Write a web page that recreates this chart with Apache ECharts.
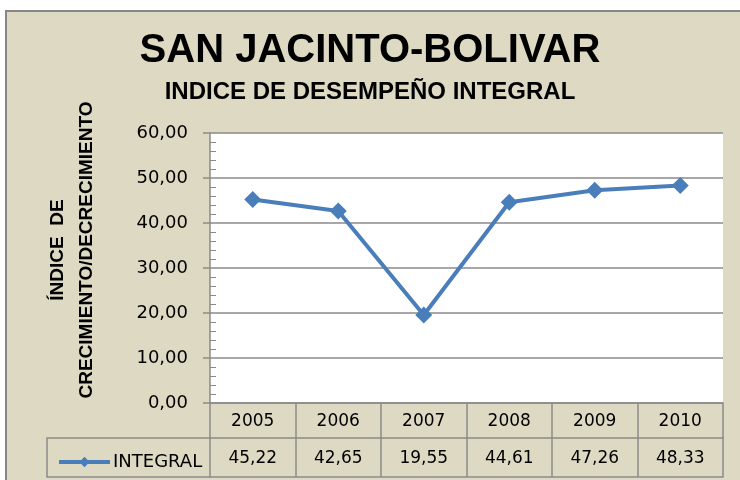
<!DOCTYPE html>
<html>
<head>
<meta charset="utf-8">
<script src="https://cdn.jsdelivr.net/npm/echarts@6/dist/echarts.min.js"></script>
<style>
  html, body { margin: 0; padding: 0; background: #ffffff; }
  .wrap { position: relative; width: 740px; height: 480px; overflow: hidden; }
  .frame { position: absolute; left: 5px; top: 10px; width: 760px; height: 500px;
           background: #DDD9C3; border: 2px solid #878787; }
  #chart { position: absolute; left: 0; top: 0; width: 740px; height: 480px; }
</style>
</head>
<body>
<div class="wrap">
  <div class="frame"></div>
  <div id="chart"></div>
</div>
<script>
  // datos del grafico
  var years = ['2005', '2006', '2007', '2008', '2009', '2010']
  var integral = [45.22, 42.65, 19.55, 44.61, 47.26, 48.33]
  var yMin = 0
  var yMax = 60
  var yStep = 10

  // formato con coma decimal
  function fmt (v) {
    return Number(v).toFixed(2).replace('.', ',')
  }

  var gray = '#8a8a8a'
  var lbl = { color: '#000', fontFamily: 'DejaVu Sans', fontSize: 17 }

  var chart = echarts.init(document.getElementById('chart'))
  chart.setOption({
    backgroundColor: 'transparent',
    animation: false,
    title: [{
      text: 'SAN JACINTO-BOLIVAR',
      left: 'center',
      top: 26,
      textStyle: { color: '#000', fontFamily: 'Liberation Sans', fontWeight: 'bold', fontSize: 40 }
    }, {
      text: 'INDICE DE DESEMPEÑO INTEGRAL',
      left: 'center',
      top: 75,
      textStyle: { color: '#000', fontFamily: 'Liberation Sans', fontWeight: 'bold', fontSize: 24 }
    }],
    legend: {
      left: 52,
      top: 448,
      itemWidth: 51,
      itemHeight: 13,
      lineStyle: { width: 4 },
      textStyle: { color: '#000', fontFamily: 'DejaVu Sans', fontSize: 18, padding: [0, 0, 0, -2] },
      data: ['INTEGRAL']
    },
    grid: {
      left: 210,
      right: 17,
      top: 133,
      bottom: 77,
      show: true,
      backgroundColor: '#ffffff',
      borderWidth: 0
    },
    xAxis: [{
      type: 'category',
      data: years,
      position: 'bottom',
      boundaryGap: true,
      axisLine: { onZero: false, lineStyle: { color: gray, width: 1.5 } },
      axisTick: { show: true, alignWithLabel: false, length: 35, lineStyle: { color: gray, width: 1.5 } },
      axisLabel: Object.assign({ margin: 10 }, lbl)
    }, {
      type: 'category',
      data: integral.map(fmt),
      position: 'bottom',
      offset: 35,
      axisLine: { onZero: false, lineStyle: { color: gray, width: 1.5 } },
      axisTick: { show: true, alignWithLabel: false, length: 39, lineStyle: { color: gray, width: 1.5 } },
      axisLabel: Object.assign({ margin: 12 }, lbl)
    }, {
      type: 'category',
      data: years,
      position: 'bottom',
      offset: 74,
      axisLine: { onZero: false, lineStyle: { color: gray, width: 1.5 } },
      axisTick: { show: false },
      axisLabel: { show: false }
    }],
    yAxis: [{
      type: 'value',
      min: yMin,
      max: yMax,
      interval: yStep,
      axisLine: { show: true, lineStyle: { color: gray, width: 1.5 } },
      axisTick: { show: true, length: 7, lineStyle: { color: gray, width: 1.5 } },
      axisLabel: Object.assign({ margin: 22, formatter: fmt }, lbl, { fontSize: 18 }),
      splitLine: { show: true, lineStyle: { color: gray, width: 1.5 } }
    }, {
      // marcas menores hacia dentro del area
      type: 'value',
      min: yMin,
      max: yMax,
      interval: yStep,
      position: 'right',
      offset: -513,
      axisLine: { show: false },
      axisTick: { show: false },
      minorTick: { show: true, splitNumber: 5, length: 6, lineStyle: { color: gray, width: 1 } },
      axisLabel: { show: false },
      splitLine: { show: false }
    }],
    graphic: [{
      type: 'polyline',
      shape: { points: [[210, 438], [47, 438], [47, 477], [210, 477]] },
      style: { stroke: gray, lineWidth: 1.5, fill: null }
    }, {
      type: 'text',
      x: 72,
      y: 250,
      rotation: Math.PI / 2,
      style: {
        text: 'ÍNDICE  DE\nCRECIMIENTO/DECRECIMIENTO',
        align: 'center',
        verticalAlign: 'middle',
        lineHeight: 29,
        fill: '#000',
        font: 'bold 19px "Liberation Sans"'
      }
    }],
    series: [{
      name: 'INTEGRAL',
      type: 'line',
      data: integral,
      symbol: 'diamond',
      symbolSize: 17,
      itemStyle: { color: '#4A7EBB' },
      lineStyle: { color: '#4A7EBB', width: 4 }
    }]
  })
</script>
</body>
</html>
